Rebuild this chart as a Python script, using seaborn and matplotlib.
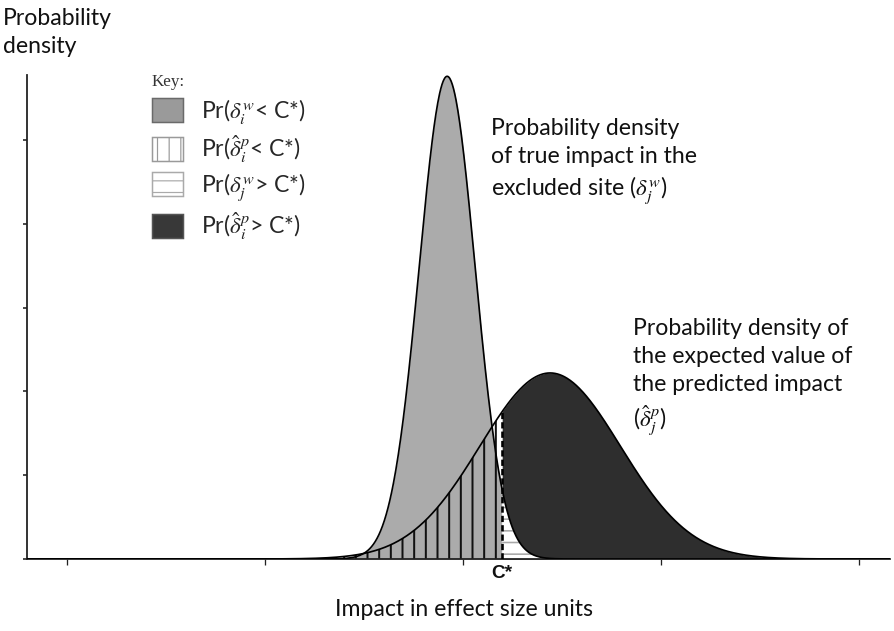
import numpy as np
import matplotlib
matplotlib.use("Agg")
import matplotlib.pyplot as plt
from matplotlib.patches import Patch
import seaborn as sns

# ==============================
# Data
# ==============================
x_ticks = [-2, -1, 0, 1, 2]
y_ticks = [0, 1, 2, 3, 4, 5]
c_star = 0.195

# true impact in the excluded site (light grey curve)
true_mean = -0.08
true_sd = 0.141
true_peak = 5.76

# expected value of the predicted impact (dark curve)
pred_mean = 0.44
pred_sd = 0.355
pred_peak = 2.22

key_labels = [
    r"Pr($\delta_i^w$< C*)",
    r"Pr($\hat{\delta}_i^p$< C*)",
    r"Pr($\delta_j^w$> C*)",
    r"Pr($\hat{\delta}_i^p$> C*)",
]

# ==============================
# Style
# ==============================
DPI = 70
PX = 72 / DPI  # points per pixel
FS = 23 * PX
sns.set_theme(style="white")
plt.rcParams["font.family"] = ["Lato", "DejaVu Sans"]
plt.rcParams["mathtext.fontset"] = "stix"

fig = plt.figure(figsize=(894 / DPI, 631 / DPI), dpi=DPI)
ax = fig.add_axes([27 / 894, 1 - 559 / 631, 863 / 894, 484 / 631])

grid = np.linspace(-2.3, 2.3, 1500)
true_y = true_peak * np.exp(-0.5 * ((grid - true_mean) / true_sd) ** 2)
pred_y = pred_peak * np.exp(-0.5 * ((grid - pred_mean) / pred_sd) ** 2)
left = grid <= c_star
right = grid >= c_star

# light grey: Pr(true < C*)
ax.fill_between(grid[left], 0, true_y[left], color="#ababab", lw=0, zorder=1)
# dark: Pr(pred > C*)
ax.fill_between(grid[right], 0, pred_y[right], color="#2e2e2e", lw=0, zorder=1)

# vertical hatching: Pr(pred < C*)
plt.rcParams["hatch.linewidth"] = 2.0 * PX
ax.fill_between(grid[left], 0, pred_y[left], facecolor="none",
                edgecolor="#111111", hatch="|", lw=0, zorder=2)
# horizontal hatching on white: Pr(true > C*)
plt.rcParams["hatch.linewidth"] = 1.6 * PX
ax.fill_between(grid[right], 0, true_y[right], facecolor="white",
                edgecolor="#a8a8a8", hatch="-", lw=0, zorder=2)

sns.lineplot(x=grid, y=true_y, color="black", lw=1.7 * PX, ax=ax, zorder=3)
sns.lineplot(x=grid, y=pred_y, color="black", lw=1.7 * PX, ax=ax, zorder=3)

c_height = pred_peak * np.exp(-0.5 * ((c_star - pred_mean) / pred_sd) ** 2)
ax.plot([c_star, c_star], [0, c_height], color="black", lw=2.6 * PX,
        ls=(0, (2.4, 1.2)), zorder=4)

# ==============================
# Axes
# ==============================
ax.set_xlim((27 - 463) / 198, (890 - 463) / 198)
ax.set_ylim(0, 484 / 83.8)
ax.set_xticks(x_ticks)
ax.set_yticks(y_ticks)
ax.set_xticklabels([])
ax.set_yticklabels([])
sns.despine(ax=ax)
for side in ["left", "bottom"]:
    ax.spines[side].set_color("#222222")
    ax.spines[side].set_linewidth(1.8 * PX)
ax.tick_params(axis="x", direction="out", length=6 * PX, width=1.3 * PX,
               color="#222222", bottom=True)
ax.tick_params(axis="y", direction="out", length=4 * PX, width=1.6 * PX,
               color="#222222", left=True)

ax.text(c_star, -0.03, "C*", transform=ax.get_xaxis_transform(),
        ha="center", va="center", fontsize=19 * PX, fontweight="bold",
        family="Liberation Sans", color="#111111")

ax.set_xlabel("Impact in effect size units", fontsize=FS, color="#111111")
ax.xaxis.label.set_va("center")
ax.xaxis.set_label_coords((464 - 27) / 863, (559 - 610) / 484)

ax.set_ylabel("Probability\ndensity", fontsize=FS, color="#111111",
              rotation=0, ha="left", va="top", linespacing=1.4)
ax.yaxis.set_label_coords((3 - 27) / 863, (559 - 8) / 484)

# ==============================
# Annotations
# ==============================
fig.text(491 / 894, 1 - 118 / 631,
         "Probability density\nof true impact in the\nexcluded site ($\\delta_j^w$)",
         ha="left", va="top", fontsize=FS, color="#111111", linespacing=1.4)
fig.text(633 / 894, 1 - 318 / 631,
         "Probability density of\nthe expected value of\nthe predicted impact\n($\\hat{\\delta}_j^p$)",
         ha="left", va="top", fontsize=FS, color="#111111", linespacing=1.4)

# ==============================
# Key
# ==============================
plt.rcParams["hatch.linewidth"] = 1.2 * PX
handles = [
    Patch(facecolor="#9a9a9a", edgecolor="#6a6a6a", lw=1.5 * PX),
    Patch(facecolor="white", edgecolor="#9a9a9a", hatch="|", lw=1.5 * PX),
    Patch(facecolor="white", edgecolor="#aaaaaa", hatch="-", lw=1.5 * PX),
    Patch(facecolor="#383838", edgecolor="#555555", lw=1.5 * PX),
]
leg = ax.legend(handles, key_labels, loc="upper left",
                bbox_to_anchor=(152 / 894, 1 - 74 / 631),
                bbox_transform=fig.transFigure, frameon=False,
                fontsize=FS, title="Key:", alignment="left",
                title_fontproperties={"family": "Liberation Serif",
                                      "size": 17 * PX},
                handlelength=1.35, handleheight=1.22, labelspacing=0.3,
                handletextpad=0.8, borderpad=0, borderaxespad=0)
leg.get_title().set_color("#333333")

fig.savefig("out.png", dpi=DPI)
plt.close(fig)
